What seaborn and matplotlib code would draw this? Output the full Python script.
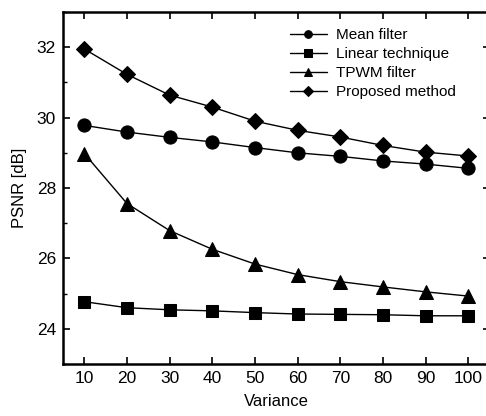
import matplotlib
matplotlib.use("Agg")
import matplotlib.pyplot as plt
import seaborn as sns
import pandas as pd
from matplotlib.ticker import MultipleLocator

variance = [10, 20, 30, 40, 50, 60, 70, 80, 90, 100]
mean_filter = [29.78, 29.59, 29.44, 29.31, 29.15, 29.00, 28.90, 28.77, 28.68, 28.56]
linear_technique = [24.77, 24.60, 24.54, 24.51, 24.46, 24.42, 24.41, 24.40, 24.37, 24.37]
tpwm_filter = [28.98, 27.56, 26.79, 26.26, 25.84, 25.54, 25.34, 25.19, 25.05, 24.93]
proposed_method = [31.95, 31.23, 30.64, 30.30, 29.90, 29.64, 29.45, 29.21, 29.02, 28.91]

series_names = ["Mean filter", "Linear technique", "TPWM filter", "Proposed method"]
series_values = [mean_filter, linear_technique, tpwm_filter, proposed_method]
markers = ["o", "s", "^", "D"]
msizes = [9.5, 8.5, 10.5, 8.5]

sns.set_style("ticks")
plt.rcParams["font.family"] = ["Liberation Sans", "DejaVu Sans"]
plt.rcParams["text.color"] = "black"
plt.rcParams["axes.labelcolor"] = "black"

fig = plt.figure(figsize=(4.86, 4.16), dpi=100)
ax = fig.add_axes([0.1296, 0.125, 1.0074 - 0.1296, 0.971 - 0.125])

for name, vals, mk, ms in zip(series_names, series_values, markers, msizes):
    df = pd.DataFrame({"Variance": variance, "PSNR": vals})
    sns.lineplot(data=df, x="Variance", y="PSNR", ax=ax, color="black",
                 marker=mk, markersize=ms, markeredgecolor="black",
                 markerfacecolor="black", linewidth=1.0, label=name)

ax.set_xlim(5, 105)
ax.set_ylim(23, 33)
ax.xaxis.set_major_locator(MultipleLocator(10))
ax.yaxis.set_major_locator(MultipleLocator(2))
ax.yaxis.set_minor_locator(MultipleLocator(1))
ax.tick_params(which="both", direction="in", top=True, right=True,
               labelsize=12.5, colors="black")
ax.tick_params(which="major", length=5, width=1.2, pad=5)
ax.tick_params(which="minor", length=3, width=1.0)
for s in ax.spines.values():
    s.set_linewidth(1.8)
    s.set_color("black")

ax.set_xlabel("Variance", fontsize=12, labelpad=6, color="black")
ax.set_ylabel("PSNR [dB]", fontsize=12, labelpad=7, color="black")

leg = ax.legend(loc="upper left", bbox_to_anchor=(0.597, 0.932),
                bbox_transform=fig.transFigure, frameon=False, fontsize=11,
                handlelength=2.4, handletextpad=0.6, labelspacing=0.33,
                borderpad=0, borderaxespad=0)
for h in leg.legend_handles:
    h.set_markersize(5.5)
for t in leg.get_texts():
    t.set_color("black")

fig.savefig("out.png", dpi=100)
